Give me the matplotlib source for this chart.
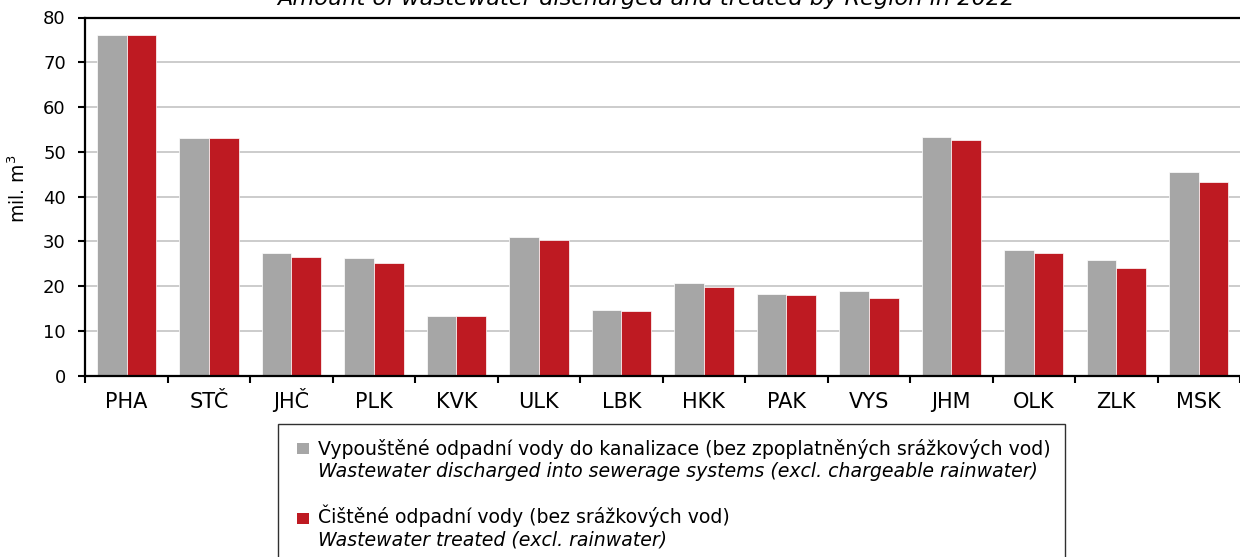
import matplotlib
matplotlib.use("Agg")
import matplotlib.pyplot as plt
import numpy as np
from matplotlib.patches import Rectangle

plt.rcParams['font.family'] = ['DejaVu Sans']

regions = ["PHA", "STČ", "JHČ", "PLK", "KVK", "ULK", "LBK", "HKK", "PAK", "VYS", "JHM", "OLK", "ZLK", "MSK"]
discharged = [76.1, 53.0, 27.3, 26.2, 13.4, 30.9, 14.6, 20.8, 18.3, 18.9, 53.2, 28.1, 25.8, 45.5]
treated = [76.1, 53.0, 26.4, 25.1, 13.4, 30.4, 14.4, 19.9, 18.1, 17.4, 52.6, 27.4, 24.0, 43.3]
yticks = [0, 10, 20, 30, 40, 50, 60, 70, 80]

title = "Amount of wastewater discharged and treated by Region in 2022"
ylabel = "mil. m$^{3}$"
leg1_cz = "Vypouštěné odpadní vody do kanalizace (bez zpoplatněných srážkových vod)"
leg1_en = "Wastewater discharged into sewerage systems (excl. chargeable rainwater)"
leg2_cz = "Čištěné odpadní vody (bez srážkových vod)"
leg2_en = "Wastewater treated (excl. rainwater)"

GRAY = "#A6A6A6"
RED = "#BE1A22"

W, H = 1240, 557
fig = plt.figure(figsize=(W / 100, H / 100), dpi=100)
ax = fig.add_axes([85.3 / W, 1 - 375.7 / H, (1240 - 85.3) / W, (375.7 - 17.5) / H])

x = np.arange(len(regions))
bw = 0.36
ax.bar(x - bw / 2, discharged, bw, color=GRAY, edgecolor="white", linewidth=0.5, zorder=2)
ax.bar(x + bw / 2, treated, bw, color=RED, edgecolor="white", linewidth=0.5, zorder=2)

ax.set_xlim(-0.5, len(regions) - 0.5)
ax.set_ylim(0, 80)
ax.set_yticks(yticks)
ax.yaxis.grid(True, color="#C8C8C8", linewidth=1.3, zorder=0)
ax.set_axisbelow(True)

ax.set_xticks(x)
ax.set_xticklabels(regions, fontsize=15)
ax.tick_params(axis="x", which="major", length=0, pad=23.3)
for lab in ax.get_xticklabels():
    lab.set_va("baseline")
ax.set_xticks(np.arange(-0.5, len(regions) - 0.4, 1.0), minor=True)
ax.tick_params(axis="x", which="minor", length=5, width=1.5, direction="out")
ax.tick_params(axis="y", labelsize=13, length=5, width=1.5, direction="out", pad=9)

for s in ["left", "bottom", "top"]:
    ax.spines[s].set_linewidth(1.6)
    ax.spines[s].set_color("black")
    ax.spines[s].set_zorder(3)
ax.spines["right"].set_visible(False)

fig.text(18.5 / W, 1 - 189 / H, ylabel, rotation=90, fontsize=13.5, ha="center", va="center")

fig.text(646 / W, 1 - 5 / H, title, ha="center", va="baseline", fontsize=16.2, style="italic")

# legend box
lx0, lx1, ly0 = 278, 1065, 424
box = Rectangle((lx0 / W, -0.01), (lx1 - lx0) / W, 1 - ly0 / H + 0.01,
                transform=fig.transFigure, facecolor="white", edgecolor="#303030",
                linewidth=1.0)
fig.patches.append(box)
sq = 11.5
for (top, col) in [(442.7, GRAY), (512.7, RED)]:
    fig.patches.append(Rectangle((297 / W, 1 - (top + sq) / H), sq / W, sq / H,
                                 transform=fig.transFigure, facecolor=col, edgecolor="none"))
tx = 318 / W
fs = 13.6
fig.text(tx, 1 - 455 / H, leg1_cz, fontsize=fs, va="baseline", ha="left")
fig.text(tx, 1 - 477 / H, leg1_en, fontsize=fs, va="baseline", ha="left", style="italic")
fig.text(tx, 1 - 523 / H, leg2_cz, fontsize=fs, va="baseline", ha="left")
fig.text(tx, 1 - 546 / H, leg2_en, fontsize=fs, va="baseline", ha="left", style="italic")

fig.savefig("out.png", dpi=100)
